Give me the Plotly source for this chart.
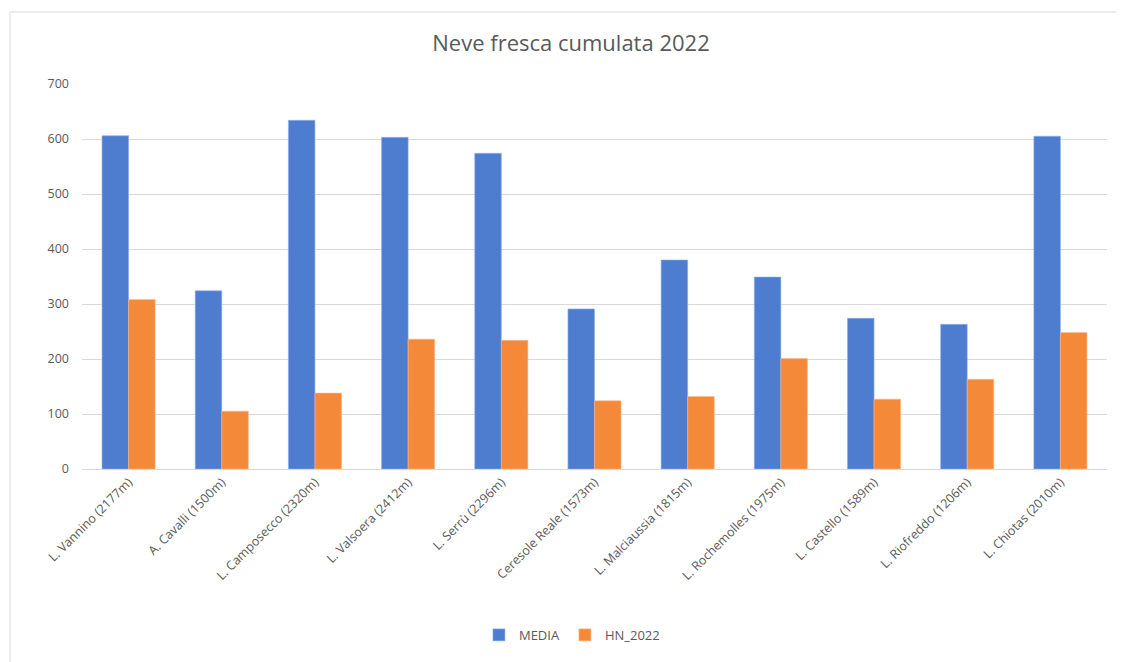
import plotly.graph_objects as go

categories = ["L. Vannino (2177m)", "A. Cavalli (1500m)", "L. Camposecco (2320m)",
              "L. Valsoera (2412m)", "L. Serrù (2296m)", "Ceresole Reale (1573m)",
              "L. Malciaussia (1815m)", "L. Rochemolles (1975m)", "L. Castello (1589m)",
              "L. Riofreddo (1206m)", "L. Chiotas (2010m)"]
media = [606, 324, 634, 603, 574, 291, 380, 349, 274, 263, 605]
hn_2022 = [308, 105, 138, 236, 234, 124, 132, 201, 127, 163, 248]
y_ticks = [0, 100, 200, 300, 400, 500, 600, 700]

font_fam = "Open Sans, Liberation Sans, sans-serif"
txt = "#595959"

W, H = 1116, 654
L, R, T, B = 74, 17, 76, 193
PW, PH = W - L - R, H - T - B

fig = go.Figure()
fig.add_trace(go.Bar(name="MEDIA", x=categories, y=media, marker_color="#4e7dd0",
                     marker_line_color="#8fb0e6", marker_line_width=0.6))
fig.add_trace(go.Bar(name="HN_2022", x=categories, y=hn_2022, marker_color="#f5893a",
                     marker_line_color="#f9b98a", marker_line_width=0.6))

fig.update_layout(
    width=W, height=H,
    margin=dict(l=L, r=R, t=T, b=B),
    paper_bgcolor="white", plot_bgcolor="white",
    barmode="group", bargap=0.43, bargroupgap=0,
    title=dict(text="Neve fresca cumulata 2022", x=563 / W, xref="container", xanchor="center",
               y=1 - 35 / H, yanchor="middle",
               font=dict(family=font_fam, size=22, color=txt)),
    font=dict(family=font_fam, size=12, color=txt),
    showlegend=True,
    legend=dict(orientation="h", x=0.478, xanchor="center", y=-0.431, yanchor="middle",
                font=dict(size=13, color=txt), itemwidth=30, traceorder="normal"),
    xaxis=dict(tickangle=-45, showgrid=False, showline=True, linecolor="#d9d9d9",
               linewidth=1, ticks="", tickfont=dict(size=12.5, color=txt)),
    yaxis=dict(range=[0, 700], tickvals=y_ticks, showgrid=True, gridcolor="#d9d9d9",
               gridwidth=1, zeroline=False, showline=False, ticks="",
               ticklabelstandoff=12, tickfont=dict(size=12.5, color=txt)),
    shapes=[
        dict(type="line", xref="paper", yref="paper",
             x0=(2 - L) / PW, x1=(W - L) / PW,
             y0=(T + PH - 4) / PH, y1=(T + PH - 4) / PH,
             line=dict(color="#d9d9d9", width=1)),
        dict(type="line", xref="paper", yref="paper",
             x0=(2 - L) / PW, x1=(2 - L) / PW,
             y0=(T + PH - 4) / PH, y1=(T + PH - H) / PH,
             line=dict(color="#d9d9d9", width=1)),
    ],
)

fig.write_html("out.html")
